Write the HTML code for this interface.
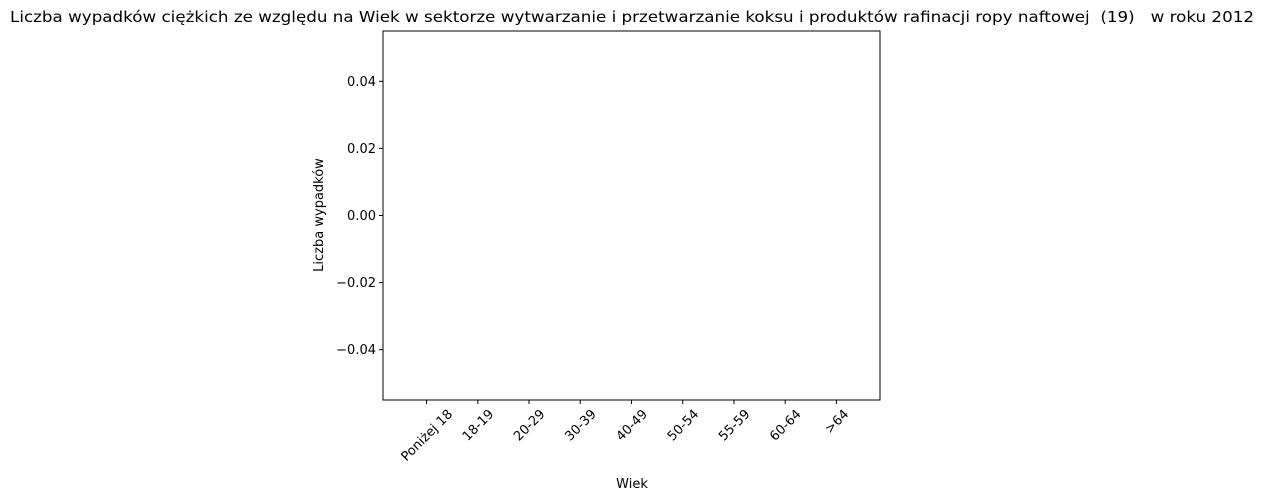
<!DOCTYPE html>
<html><head><meta charset="utf-8"><style>
html,body{margin:0;padding:0;background:#fff;}
svg{display:block;font-family:"DejaVu Sans","Liberation Sans",sans-serif;}
text{white-space:pre;}
</style></head><body>
<svg id="chart" width="1264" height="500">
<text x="632" y="22" text-anchor="middle" font-size="15.5" textLength="1244" lengthAdjust="spacingAndGlyphs" style="white-space:pre">Liczba wypadków ciężkich ze względu na Wiek w sektorze wytwarzanie i przetwarzanie koksu i produktów rafinacji ropy naftowej  (19)   w roku 2012</text>
<g id="plot"></g>
<rect x="383" y="31" width="497" height="369" fill="none" stroke="#000" stroke-width="1"/>
<text x="323" y="215" text-anchor="middle" font-size="13" transform="rotate(-90 323 215)">Liczba wypadków</text>
<text x="632" y="488" text-anchor="middle" font-size="13">Wiek</text>
</svg>
<script>
const categories = ["Poniżej 18","18-19","20-29","30-39","40-49","50-54","55-59","60-64",">64"];
const values = [0,0,0,0,0,0,0,0,0];
const yTicks = [0.04,0.02,0.00,-0.02,-0.04];
const yTickLabels = ["0.04","0.02","0.00","\u22120.02","\u22120.04"];

const NS="http://www.w3.org/2000/svg";
const g=document.getElementById('plot');
const x0=383,x1=880,y0=31,y1=400,ymin=-0.055,ymax=0.055;
const n=categories.length;
const step=(x1-x0)/(n-1+1.7);
function xs(i){return x0+step*0.85+i*step;}
function ys(v){return y1-(v-ymin)/(ymax-ymin)*(y1-y0);}
function mk(tag,attrs){const e=document.createElementNS(NS,tag);for(const k in attrs)e.setAttribute(k,attrs[k]);g.appendChild(e);return e;}
values.forEach((v,i)=>{
  const yb=ys(Math.max(v,0)),yt=ys(Math.min(v,0));
  const r=mk('rect',{x:xs(i)-step*0.4,y:yb,width:step*0.8,height:Math.abs(yt-yb),fill:'#1f77b4'});
  
  
});
categories.forEach((c,i)=>{
  const x=xs(i);
  const t=mk('line',{x1:x,x2:x,y1:y1,y2:y1+4,stroke:'#000'});
  
  
  const l=mk('text',{x:x,y:0,'text-anchor':'middle','font-size':'13'});
  l.textContent=c;
  
  
  const L=l.getComputedTextLength();
  const h=13;
  const boxH=(L+h)*Math.SQRT1_2;
  const cy=y1+7+boxH/2;
  l.setAttribute('y',cy+h*0.35);
  l.setAttribute('transform',`rotate(-45 ${x} ${cy})`);
});
yTicks.forEach((v,i)=>{
  const y=ys(v);
  const t=mk('line',{x1:x0-4,x2:x0,y1:y,y2:y,stroke:'#000'});
  
  
  const l=mk('text',{x:x0-7,y:y+4.5,'text-anchor':'end','font-size':'13'});
  l.textContent=yTickLabels[i];
  
  
});
</script>
</body></html>
